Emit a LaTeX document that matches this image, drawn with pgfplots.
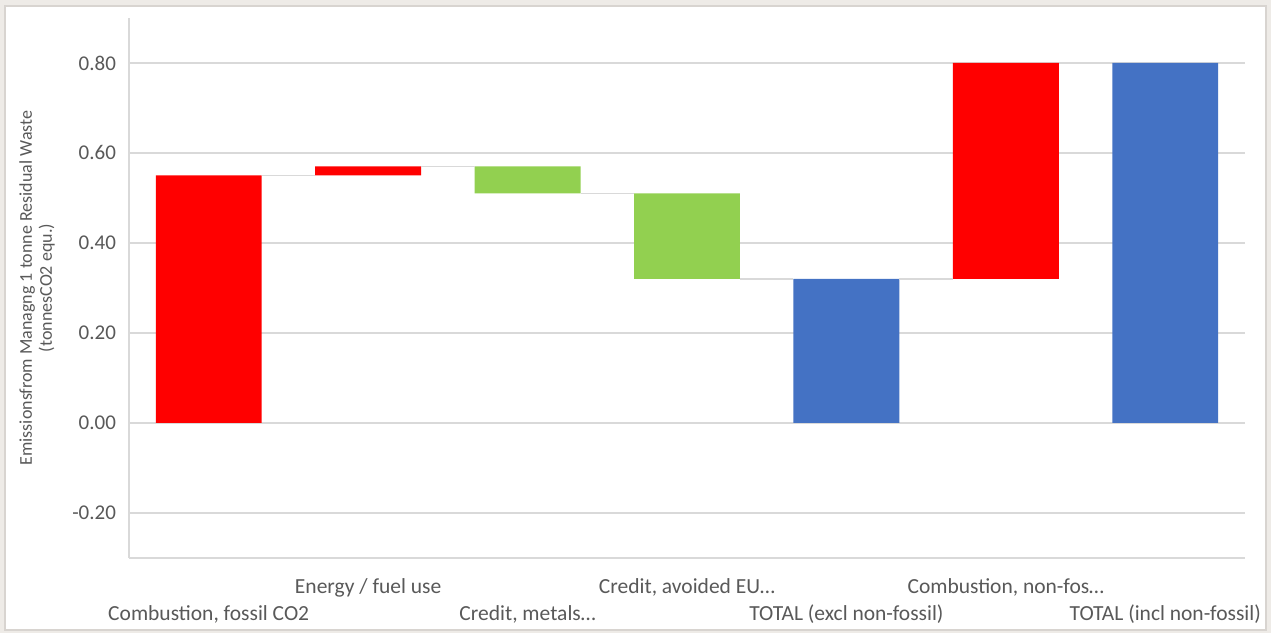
\documentclass[border=0pt]{standalone}
\usepackage{pgfplots}
\pgfplotsset{compat=1.18}
\usepackage{fontspec}
\setmainfont{Carlito}
\definecolor{bgbeige}{HTML}{EEEBE7}
\definecolor{framegrey}{HTML}{D8D4D0}
\definecolor{gridgrey}{HTML}{D9D9D9}
\definecolor{txtgrey}{HTML}{595959}
\definecolor{xlred}{HTML}{FF0000}
\definecolor{xlgreen}{HTML}{92D050}
\definecolor{xlblue}{HTML}{4472C4}
\begin{document}
\begin{tikzpicture}
\fill[bgbeige] (0,0) rectangle (635.5pt,316.5pt);
\path[use as bounding box] (0,0) rectangle (635.5pt,316.5pt);
\filldraw[fill=white, draw=framegrey, line width=0.6pt] (2.5pt,1.5pt) rectangle (633pt,313.5pt);
\begin{axis}[
  at={(64.5pt,37.5pt)}, anchor=south west,
  scale only axis, width=558pt, height=270pt,
  xmin=-0.5, xmax=6.5, ymin=-0.3, ymax=0.9,
  ybar stacked, bar width=0.664,
  axis x line*=bottom, axis y line*=left,
  axis line style={draw=gridgrey, line width=0.8pt},
  ymajorgrids, grid style={draw=gridgrey, line width=0.8pt},
  major tick length=0pt,
  ytick={-0.2,0,0.2,0.4,0.6,0.8},
  yticklabel style={/pgf/number format/.cd, fixed, fixed zerofill, precision=2, assume math mode=true, /tikz/.cd, font=\fontsize{10.5pt}{12pt}\selectfont, text=txtgrey, xshift=-3pt},
  xtick={0,1,2,3,4,5,6},
  xticklabels={{Combustion, fossil CO2},{\raisebox{13.5pt}{Energy / fuel use}},{Credit, metals\ldots},{\raisebox{13.5pt}{Credit, avoided EU\ldots}},{TOTAL (excl non-fossil)},{\raisebox{13.5pt}{Combustion, non-fos\ldots}},{TOTAL (incl non-fossil)}},
  xticklabel style={anchor=base, yshift=-31pt, font=\fontsize{10.75pt}{12pt}\selectfont, text=txtgrey},
  ylabel={Emissionsfrom Managng 1 tonne Residual Waste\\(tonnesCO2 equ.)},
  ylabel style={at={(axis description cs:-0.0824,0.5)}, anchor=center, align=center, font=\fontsize{9pt}{10pt}\selectfont, text=txtgrey},
  clip=false,
]
% connectors
\addplot[sharp plot, stack plots=false, draw=gridgrey, line width=0.8pt, forget plot] coordinates {(0.332,0.55) (0.668,0.55)};
\addplot[sharp plot, stack plots=false, draw=gridgrey, line width=0.8pt, forget plot] coordinates {(1.332,0.57) (1.668,0.57)};
\addplot[sharp plot, stack plots=false, draw=gridgrey, line width=0.8pt, forget plot] coordinates {(2.332,0.51) (2.668,0.51)};
\addplot[sharp plot, stack plots=false, draw=gridgrey, line width=0.8pt, forget plot] coordinates {(3.332,0.32) (3.668,0.32)};
\addplot[sharp plot, stack plots=false, draw=gridgrey, line width=0.8pt, forget plot] coordinates {(4.332,0.32) (4.668,0.32)};
\addplot[sharp plot, stack plots=false, draw=gridgrey, line width=0.8pt, forget plot] coordinates {(5.332,0.80) (5.668,0.80)};
% invisible base
\addplot[draw=none, fill=none] coordinates {(0,0) (1,0.55) (2,0.51) (3,0.32) (4,0) (5,0.32) (6,0)};
% increases (red)
\addplot[draw=none, fill=xlred] coordinates {(0,0.55) (1,0.02) (2,0) (3,0) (4,0) (5,0.48) (6,0)};
% decreases (green)
\addplot[draw=none, fill=xlgreen] coordinates {(0,0) (1,0) (2,0.06) (3,0.19) (4,0) (5,0) (6,0)};
% totals (blue)
\addplot[draw=none, fill=xlblue] coordinates {(0,0) (1,0) (2,0) (3,0) (4,0.32) (5,0) (6,0.80)};
\end{axis}
\end{tikzpicture}
\end{document}
